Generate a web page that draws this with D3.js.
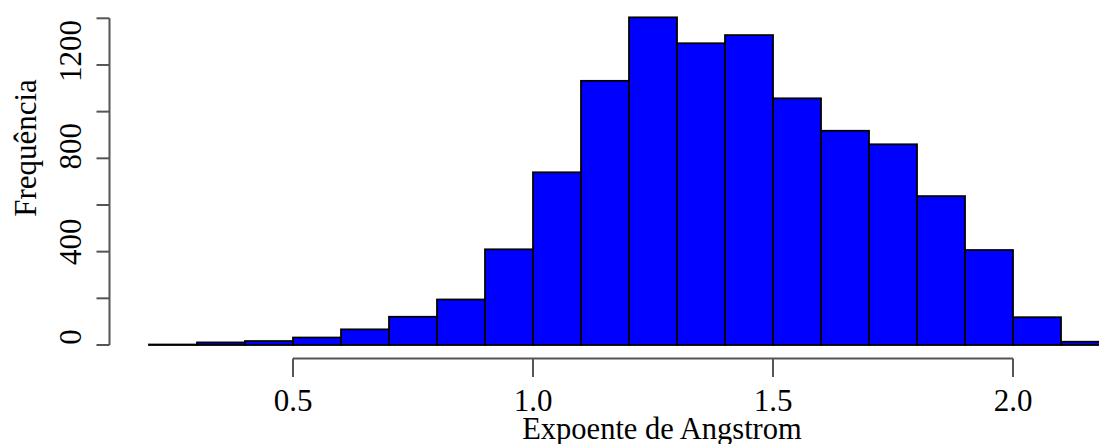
<!DOCTYPE html>
<html>
<head>
<meta charset="utf-8">
<script src="https://cdn.jsdelivr.net/npm/d3@7"></script>
<style>
  body { margin: 0; background: #fff; }
  text { font-family: "Liberation Serif", "Times New Roman", serif; fill: #000; }
</style>
</head>
<body>
<div id="chart"></div>
<script>
// histogram bins (left edge) and counts
const binStarts = [0.2, 0.3, 0.4, 0.5, 0.6, 0.7, 0.8, 0.9, 1.0, 1.1, 1.2, 1.3, 1.4, 1.5, 1.6, 1.7, 1.8, 1.9, 2.0, 2.1];
const counts = [2, 11, 17, 32, 67, 121, 195, 410, 740, 1132, 1404, 1293, 1328, 1057, 918, 860, 638, 407, 119, 14];
const binWidth = 0.1;

const xTicks = [0.5, 1.0, 1.5, 2.0];
const xTickLabels = ['0.5', '1.0', '1.5', '2.0'];
const yTicks = [0, 200, 400, 600, 800, 1000, 1200, 1400];
const yTickLabels = ['0', '', '400', '', '800', '', '1200', ''];

const width = 1099, height = 444;

let svg = d3.select('#chart')
  .append('svg')
  .attr('width', width)
  .attr('height', height);

let x = d3.scaleLinear().domain([0.5, 2.0]).range([293, 1013]);
let y = d3.scaleLinear().domain([0, 1400]).range([345, 18.3]);

// bars
svg.selectAll('rect.bar')
  .data(binStarts)
  .enter()
  .append('rect')
  .attr('class', 'bar')
  .attr('x', d => x(d))
  .attr('width', d => x(d + binWidth) - x(d))
  .attr('y', (d, i) => y(counts[i]))
  .attr('height', (d, i) => y(0) - y(counts[i]))
  .attr('fill', '#0000ff')
  .attr('stroke', '#000')
  .attr('stroke-width', 1.8);

// x axis (R style: line only spans the ticks)
let gx = svg.append('g').attr('transform', 'translate(0, 358.5)');
gx.append('line')
  .attr('x1', x(xTicks[0])).attr('x2', x(xTicks[xTicks.length - 1]))
  .attr('stroke', '#555').attr('stroke-width', 2);
gx.selectAll('line.tick')
  .data(xTicks)
  .enter()
  .append('line')
  .attr('class', 'tick')
  .attr('x1', d => x(d)).attr('x2', d => x(d))
  .attr('y1', 0).attr('y2', 18.5)
  .attr('stroke', '#555').attr('stroke-width', 2);
gx.selectAll('text')
  .data(xTicks)
  .enter()
  .append('text')
  .attr('x', d => x(d))
  .attr('y', 52.5)
  .attr('text-anchor', 'middle')
  .style('font-size', '31px')
  .text((d, i) => xTickLabels[i]);

// y axis
let gy = svg.append('g').attr('transform', 'translate(109.5, 0)');
gy.append('line')
  .attr('y1', y(0)).attr('y2', y(1400))
  .attr('stroke', '#555').attr('stroke-width', 2);
gy.selectAll('line.tick')
  .data(yTicks)
  .enter()
  .append('line')
  .attr('class', 'tick')
  .attr('y1', d => y(d)).attr('y2', d => y(d))
  .attr('x1', 0).attr('x2', -13)
  .attr('stroke', '#555').attr('stroke-width', 2);
// labels sit a little above their ticks in the original
gy.selectAll('text')
  .data(yTicks)
  .enter()
  .append('text')
  .attr('transform', d => `translate(-29, ${y(d) - 8 - d * 0.005}) rotate(-90)`)
  .attr('text-anchor', 'middle')
  .style('font-size', '31px')
  .text((d, i) => yTickLabels[i]);

// axis titles
svg.append('text')
  .attr('x', 662)
  .attr('y', 438.5)
  .attr('text-anchor', 'middle')
  .style('font-size', '30.5px')
  .text('Expoente de Angstrom');

svg.append('text')
  .attr('transform', 'translate(36, 148) rotate(-90)')
  .attr('text-anchor', 'middle')
  .style('font-size', '31px')
  .text('Frequência');
</script>
</body>
</html>
